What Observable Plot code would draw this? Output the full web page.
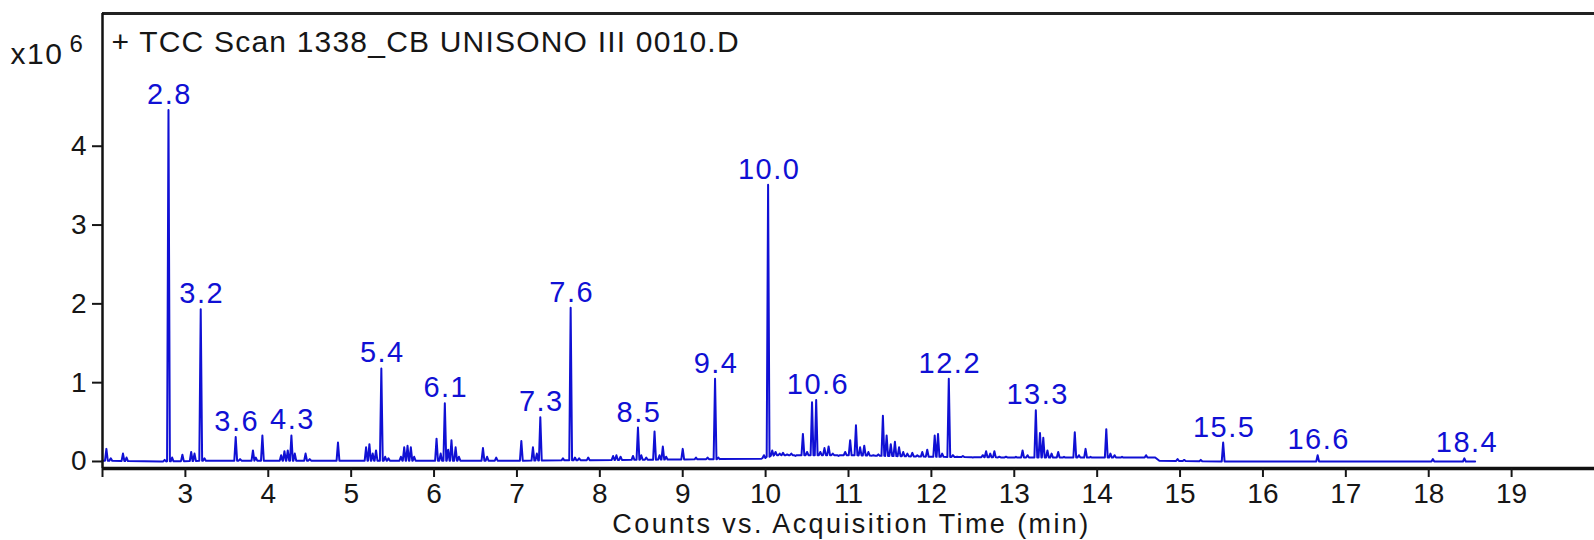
<!DOCTYPE html>
<html>
<head>
<meta charset="utf-8">
<script src="https://cdn.jsdelivr.net/npm/d3@7"></script>
<script src="https://cdn.jsdelivr.net/npm/@observablehq/plot@0.6"></script>
<style>
  html, body { margin: 0; padding: 0; background: #fff; }
  #chart { width: 1594px; height: 540px; overflow: hidden; }
</style>
</head>
<body>
<div id="chart"></div>
<script>
// Chromatogram (TCC) — values in units of 10^6 counts, time in minutes
const titleText = "+ TCC Scan 1338_CB UNISONO III 0010.D";
const xLabelText = "Counts vs. Acquisition Time (min)";
const yMultiplier = "x10";
const yExponent = "6";

const xTicks = [2, 3, 4, 5, 6, 7, 8, 9, 10, 11, 12, 13, 14, 15, 16, 17, 18, 19];
const yTicks = [0, 1, 2, 3, 4];
const xDomain = [2, 20];
const yDomain = [-0.089, 5.684];

// baseline level of the trace
const baseTime  = [2.0, 2.7, 3.3, 5.0, 7.0, 9.45, 9.95, 10.1, 11.0, 12.0, 13.0, 14.0, 14.7, 14.75, 15.6, 18.56];
const baseLevel = [0.01, 0.0, 0.01, 0.01, 0.01, 0.03, 0.035, 0.08, 0.08, 0.06, 0.05, 0.05, 0.05, 0.01, 0.0, 0.0];

// peaks: apex time and apex height
const peakTime = [
  2.047, 2.10, 2.247, 2.29, 2.75, 2.796, 2.84, 2.964, 3.07, 3.11, 3.185, 3.23,
  3.607, 3.66, 3.815, 3.85, 3.929, 4.155, 4.195, 4.235, 4.279, 4.32, 4.45, 4.50,
  4.841, 5.18, 5.22, 5.26, 5.30, 5.364, 5.41, 5.45, 5.60, 5.64, 5.68, 5.72, 5.76,
  6.03, 6.08, 6.13, 6.17, 6.21, 6.26, 6.30, 6.59, 6.64, 6.75,
  7.053, 7.193, 7.24, 7.282, 7.555, 7.648, 7.70, 7.75, 7.86,
  8.16, 8.20, 8.25, 8.40, 8.46, 8.50, 8.56, 8.66, 8.72, 8.76, 8.80,
  9.00, 9.16, 9.30, 9.39, 9.43, 9.98, 10.03, 10.08, 10.12, 10.17, 10.21, 10.26, 10.31, 10.36,
  10.45, 10.50, 10.56, 10.61, 10.66, 10.71, 10.76, 10.81, 10.88, 10.96,
  11.02, 11.09, 11.14, 11.19, 11.24, 11.30, 11.36, 11.415, 11.46, 11.51, 11.56, 11.61,
  11.66, 11.71, 11.77, 11.83, 11.89, 11.95, 12.04, 12.08, 12.13, 12.21, 12.26, 12.31,
  12.38, 12.50, 12.62, 12.66, 12.71, 12.76, 12.82, 12.90, 13.02, 13.10, 13.16,
  13.26, 13.31, 13.35, 13.40, 13.45, 13.53, 13.60, 13.73, 13.78, 13.86, 13.92,
  14.11, 14.16, 14.21, 14.30, 14.40, 14.59, 14.97, 15.05, 15.25, 15.52, 16.66, 18.05, 18.43
];
const peakHeight = [
  0.16, 0.04, 0.10, 0.05, 0.02, 4.46, 0.05, 0.085, 0.12, 0.10, 1.93, 0.04,
  0.31, 0.03, 0.14, 0.05, 0.33, 0.08, 0.13, 0.14, 0.33, 0.10, 0.10, 0.03,
  0.24, 0.18, 0.22, 0.10, 0.14, 1.18, 0.06, 0.04, 0.06, 0.18, 0.20, 0.18, 0.06,
  0.29, 0.10, 0.74, 0.15, 0.27, 0.18, 0.06, 0.17, 0.06, 0.05,
  0.26, 0.18, 0.10, 0.56, 0.04, 1.95, 0.05, 0.04, 0.05,
  0.07, 0.08, 0.06, 0.07, 0.43, 0.08, 0.05, 0.38, 0.08, 0.19, 0.06,
  0.16, 0.05, 0.05, 1.05, 0.05, 0.08, 3.51, 0.14, 0.12, 0.10, 0.11, 0.09, 0.10, 0.07,
  0.35, 0.12, 0.75, 0.78, 0.12, 0.17, 0.19, 0.10, 0.07, 0.12,
  0.27, 0.46, 0.18, 0.20, 0.12, 0.08, 0.09, 0.58, 0.33, 0.22, 0.25, 0.18,
  0.12, 0.10, 0.11, 0.08, 0.12, 0.15, 0.33, 0.35, 0.10, 1.05, 0.08, 0.06,
  0.07, 0.05, 0.08, 0.13, 0.10, 0.13, 0.06, 0.06, 0.06, 0.14, 0.08,
  0.65, 0.36, 0.30, 0.14, 0.10, 0.12, 0.06, 0.37, 0.08, 0.16, 0.06,
  0.41, 0.10, 0.08, 0.06, 0.05, 0.08, 0.03, 0.02, 0.02, 0.24, 0.08, 0.03, 0.04
];

// peak annotations
const labelText = ["2.8", "3.2", "3.6", "4.3", "5.4", "6.1", "7.3", "7.6", "8.5", "9.4", "10.0", "10.6", "12.2", "13.3", "15.5", "16.6", "18.4"];
const labelTime = [2.796, 3.185, 3.607, 4.279, 5.364, 6.13, 7.282, 7.648, 8.46, 9.39, 10.03, 10.62, 12.21, 13.27, 15.52, 16.66, 18.45];
const labelHeight = [4.46, 1.93, 0.31, 0.33, 1.18, 0.74, 0.56, 1.95, 0.43, 1.05, 3.51, 0.78, 1.05, 0.65, 0.24, 0.08, 0.04];

// ---- build trace ----
const halfWidth = 0.017;
function baseAt(t) {
  for (let i = 0; i < baseTime.length - 1; i++) {
    if (t >= baseTime[i] && t <= baseTime[i + 1]) {
      const f = (t - baseTime[i]) / (baseTime[i + 1] - baseTime[i]);
      return baseLevel[i] + f * (baseLevel[i + 1] - baseLevel[i]);
    }
  }
  return baseLevel[baseLevel.length - 1];
}
const trace = baseTime.map((t, i) => ({t, v: baseLevel[i]}));
peakTime.forEach((t, i) => {
  const b = baseAt(t);
  trace.push({t: t - halfWidth, v: b}, {t, v: peakHeight[i]}, {t: t + halfWidth, v: b});
});
trace.sort((a, b) => a.t - b.t);

const labels = labelText.map((s, i) => ({s, t: labelTime[i], v: labelHeight[i]}));

const blue = "#1010d4";
const ink = "#161616";
const font = "'Liberation Sans', Arial, sans-serif";

const chart = Plot.plot({
  width: 1594,
  height: 540,
  marginLeft: 102,
  marginRight: 0,
  marginTop: 13,
  marginBottom: 72,
  style: {fontFamily: font, fontSize: "28px", background: "#fff", color: ink, overflow: "visible"},
  x: {domain: xDomain, label: null},
  y: {domain: yDomain, label: null},
  marks: [
    Plot.line(trace, {x: "t", y: "v", stroke: blue, strokeWidth: 2, strokeLinejoin: "round"}),
    Plot.text(labels, {x: "t", y: "v", text: "s", fill: blue, fontSize: 29, lineAnchor: "bottom", dy: -6, dx: 1}),
    Plot.ruleY([yDomain[1]], {stroke: "#222", strokeWidth: 3}),
    Plot.ruleY([yDomain[0]], {stroke: "#111", strokeWidth: 3.5}),
    Plot.ruleX([xDomain[0]], {stroke: "#111", strokeWidth: 2.5}),
    Plot.axisY({ticks: yTicks, tickSize: 10, tickPadding: 6, tickFormat: d => String(d), fontSize: 28, strokeWidth: 2, label: null}),
    Plot.axisX({ticks: xTicks, tickSize: 9, tickPadding: 6, tickFormat: d => (d === 2 ? "" : String(d)), fontSize: 28, strokeWidth: 2, label: null}),
    Plot.text([titleText], {frameAnchor: "top-left", text: d => d, textAnchor: "start", lineAnchor: "middle", dx: 9, dy: 29, fontSize: 30, fill: ink}),
    Plot.text([yMultiplier], {frameAnchor: "top-left", text: d => d, textAnchor: "start", lineAnchor: "middle", dx: -92, dy: 41, fontSize: 30, fill: ink}),
    Plot.text([yExponent], {frameAnchor: "top-left", text: d => d, textAnchor: "start", lineAnchor: "middle", dx: -33, dy: 31, fontSize: 24, fill: ink}),
    Plot.text([xLabelText], {frameAnchor: "bottom", text: d => d, textAnchor: "middle", lineAnchor: "middle", dx: 3, dy: 56, fontSize: 27, fill: ink})
  ]
});
// widen the lettering a little, as in the reference rendering
const spacing = new Map([[titleText, "1.2px"], [yMultiplier, "1.5px"], [xLabelText, "2.4px"]]);
labelText.forEach(s => spacing.set(s, "1.5px"));
d3.select(chart).selectAll("text").each(function () {
  const s = this.textContent;
  if (spacing.has(s)) d3.select(this).style("letter-spacing", spacing.get(s));
});
document.getElementById("chart").appendChild(chart);
</script>
</body>
</html>
